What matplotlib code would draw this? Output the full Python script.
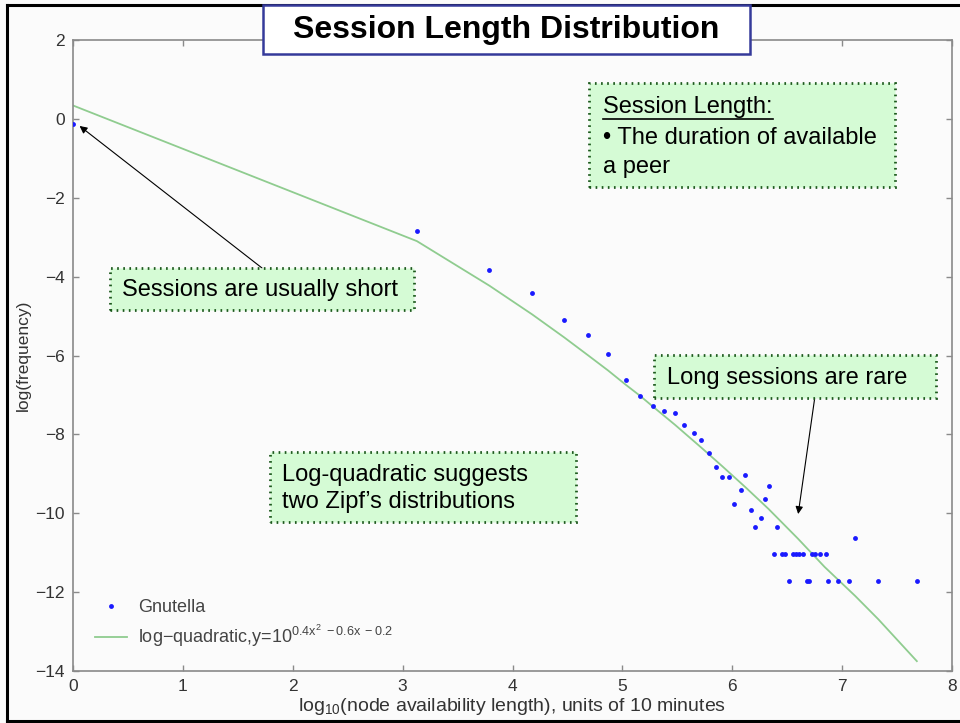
import matplotlib
matplotlib.use("Agg")
import matplotlib.pyplot as plt
from matplotlib.patches import Rectangle
from matplotlib.lines import Line2D

plt.rcParams['font.family'] = ['Liberation Sans', 'DejaVu Sans']
plt.rcParams['mathtext.fontset'] = 'custom'
plt.rcParams['mathtext.rm'] = 'Liberation Sans'
plt.rcParams['mathtext.it'] = 'Liberation Sans'
plt.rcParams['mathtext.default'] = 'regular'

# ---- data ----
gnutella_x = [0.0, 3.13, 3.79, 4.18, 4.47, 4.69, 4.87, 5.03, 5.16, 5.28, 5.38, 5.48,
              5.56, 5.65, 5.72, 5.79, 5.85, 5.91, 5.97, 6.12, 6.08, 6.02, 6.33, 6.30,
              6.17, 6.26, 6.21, 6.41, 7.12,
              6.38, 6.45, 6.48, 6.55, 6.58, 6.61, 6.64, 6.73, 6.75, 6.80, 6.85,
              6.52, 6.68, 6.70, 6.87, 6.96, 7.06, 7.33, 7.68]
gnutella_y = [-0.13, -2.84, -3.83, -4.42, -5.10, -5.48, -5.95, -6.61, -7.03, -7.29, -7.41, -7.47,
              -7.77, -7.96, -8.14, -8.47, -8.83, -9.08, -9.08, -9.02, -9.42, -9.77, -9.31, -9.64,
              -9.93, -10.11, -10.34, -10.34, -10.62,
              -11.04, -11.04, -11.04, -11.04, -11.04, -11.04, -11.04, -11.04, -11.04, -11.04, -11.04,
              -11.73, -11.73, -11.73, -11.73, -11.73, -11.73, -11.73, -11.73]

fit_x = [0.0, 3.13, 3.79, 4.18, 4.47, 4.69, 4.87, 5.03, 5.16, 5.28, 5.48, 5.72,
         5.91, 6.12, 6.33, 6.60, 6.84, 7.12, 7.33, 7.68]
fit_y = [0.34, -3.10, -4.23, -4.96, -5.54, -6.00, -6.38, -6.74, -7.02, -7.30, -7.76, -8.34,
         -8.81, -9.34, -9.89, -10.65, -11.36, -12.10, -12.69, -13.75]

x_ticks = [0, 1, 2, 3, 4, 5, 6, 7, 8]
y_ticks = [2, 0, -2, -4, -6, -8, -10, -12, -14]

title = "Session Length Distribution"
legend_labels = ["Gnutella", r"log$-$quadratic,y=10$^{0.4x^{2}\ -0.6x\ -0.2}$"]

W, H = 960, 723
fig = plt.figure(figsize=(W / 100, H / 100), dpi=100)
fig.patch.set_facecolor('#fbfbfb')

def fx(p):
    return p / W

def fy(p):
    return 1 - p / H

ax = fig.add_axes([fx(73), fy(671), fx(952) - fx(73), fy(40) - fy(671)])
ax.set_facecolor('#fbfbfb')

pts, = ax.plot(gnutella_x, gnutella_y, linestyle='none', marker='o', ms=3.5,
               mec='none', mfc='#1a1aff', zorder=3)
fit, = ax.plot(fit_x, fit_y, color='#8fcc8f', lw=1.3, zorder=2)

ax.set_xlim(0, 8)
ax.set_ylim(-14, 2)
ax.set_xticks(x_ticks)
ax.set_yticks(y_ticks)
ax.set_yticklabels([str(v).replace('-', '\u2212') for v in y_ticks])
for s in ax.spines.values():
    s.set_color('#8a8a8a')
    s.set_linewidth(1.2)
ax.tick_params(direction='in', top=True, right=True, length=4, width=1,
               color='#8a8a8a', labelsize=12.5, labelcolor='#333333', pad=6)

ax.set_xlabel(r"log$_{10}$(node availability length), units of 10 minutes",
              fontsize=14, color='#333333', labelpad=1)
ax.set_ylabel("log(frequency)", fontsize=12.5, color='#333333', labelpad=3)

leg = ax.legend([pts, fit], legend_labels, loc='lower left', frameon=False,
                fontsize=13, labelcolor='#444444', handlelength=1.8,
                handletextpad=0.6, borderpad=0, borderaxespad=0,
                labelspacing=0.35, bbox_to_anchor=(0.025, 0.035))

# outer black frame
for (x0, y0, x1, y1) in [(7, 5, 960, 5), (7, 5, 7, 721), (7, 721, 960, 721)]:
    fig.add_artist(Line2D([fx(x0), fx(x1)], [fy(y0), fy(y1)], color='black', lw=2.2))

# title box
fig.add_artist(Rectangle((fx(263), fy(54)), fx(750) - fx(263), fy(5) - fy(54),
                         facecolor='white', edgecolor='#353a9a', lw=1.8, zorder=5))
fig.text(fx(506), fy(30), title, ha='center', va='center', fontsize=23,
         fontweight='bold', color='black', zorder=6)

def note_box(x0, y0, x1, y1):
    fig.add_artist(Rectangle((fx(x0), fy(y1)), fx(x1) - fx(x0), fy(y0) - fy(y1),
                             facecolor='#d5fbd5', edgecolor='#1d5a1d', lw=2,
                             linestyle=(0, (0.6, 1.6)), zorder=5))

FS = 17
note_box(110, 268, 414, 310)
fig.text(fx(122), fy(290), "Sessions are usually short", ha='left', va='center',
         fontsize=FS, zorder=6)

note_box(589, 83, 895, 187)
t_head = fig.text(fx(603), fy(107), "Session Length:", ha='left', va='center',
                  fontsize=FS, zorder=6)
fig.text(fx(603), fy(138), "\u2022 The duration of available", ha='left', va='center',
         fontsize=FS, zorder=6)
fig.text(fx(603), fy(167), "a peer", ha='left', va='center', fontsize=FS, zorder=6)

note_box(654, 355, 936, 398)
fig.text(fx(667), fy(378), "Long sessions are rare", ha='left', va='center',
         fontsize=FS, zorder=6)

note_box(270, 452, 576, 522)
fig.text(fx(282), fy(475), "Log-quadratic suggests", ha='left', va='center',
         fontsize=FS, zorder=6)
fig.text(fx(282), fy(502), "two Zipf\u2019s distributions", ha='left', va='center',
         fontsize=FS, zorder=6)

# arrows
ax.annotate("", xy=(0.06, -0.18), xycoords='data',
            xytext=(fx(262), fy(268)), textcoords='figure fraction',
            arrowprops=dict(arrowstyle='-|>', color='black', lw=0.8,
                            mutation_scale=11, shrinkA=0, shrinkB=0), zorder=4)
ax.annotate("", xy=(6.60, -10.02), xycoords='data',
            xytext=(fx(815), fy(396)), textcoords='figure fraction',
            arrowprops=dict(arrowstyle='-|>', color='black', lw=0.8,
                            mutation_scale=11, shrinkA=0, shrinkB=0), zorder=4)

# underline of the heading
fig.canvas.draw()
bb = t_head.get_window_extent(fig.canvas.get_renderer())
fig.add_artist(Line2D([bb.x0 / W, bb.x1 / W], [fy(119), fy(119)], color='black',
                      lw=1.2, zorder=6))

fig.savefig("out.png", dpi=100, facecolor=fig.get_facecolor())
